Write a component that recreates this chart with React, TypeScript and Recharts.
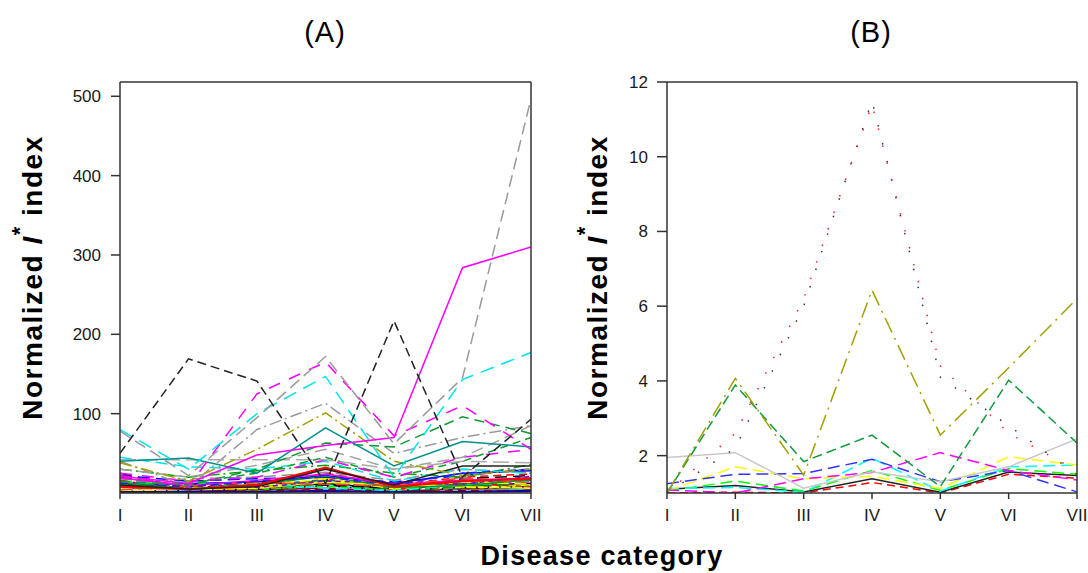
import React from 'react';
import { LineChart, Line, XAxis, YAxis, ReferenceLine, Label } from 'recharts';

// ---------- categories & ticks ----------
const categories = ['I', 'II', 'III', 'IV', 'V', 'VI', 'VII'];
const ticksA = [100, 200, 300, 400, 500];
const ticksB = [2, 4, 6, 8, 10, 12];
const domainA: [number, number] = [0, 518];
const domainB: [number, number] = [1, 12];

// ---------- Panel A values (low bundle first, prominent lines last) ----------
const aLow01 = [8, 4, 6, 12, 5, 10, 12];
const aLow02 = [12, 6, 5, 18, 4, 12, 8];
const aLow03 = [15, 10, 8, 14, 6, 18, 15];
const aLow04 = [5, 8, 4, 20, 8, 6, 10];
const aLow05 = [10, 12, 14, 22, 12, 25, 28];
const aLow06 = [6, 3, 10, 8, 15, 10, 14];
const aLow07 = [4, 2, 3, 10, 2, 6, 4];
const aLow08 = [18, 10, 12, 15, 8, 14, 20];
const aLow09 = [3, 2, 4, 6, 2, 5, 6];
const aLow10 = [20, 8, 6, 10, 3, 8, 12];
const aLow11 = [2, 1, 2, 3, 1, 2, 3];
const aLow12 = [7, 5, 8, 4, 6, 9, 5];
const aLow13 = [14, 6, 10, 16, 9, 12, 16];
const aLow14 = [9, 7, 3, 12, 7, 4, 9];
const aLow15 = [25, 5, 14, 10, 6, 18, 22];
const aLow16 = [16, 3, 7, 25, 10, 20, 24];
const aLow17 = [11, 14, 5, 8, 4, 15, 18];
const aLow18 = [22, 15, 18, 20, 14, 22, 30];
const aLow19 = [3, 4, 6, 14, 10, 8, 6];
const aLow20 = [6, 4, 12, 6, 3, 10, 14];
const aLow21 = [12, 18, 20, 26, 16, 30, 25];
const aLow22 = [1, 1, 2, 4, 1, 3, 2];
const aLow23 = [30, 20, 28, 35, 25, 20, 36];
const aLow24 = [1, 2, 1, 2, 1, 1, 2];
const aLow25 = [2, 3, 5, 9, 3, 7, 8];
const aLow26 = [19, 9, 16, 24, 11, 16, 19];
const aLow27 = [5, 6, 9, 18, 5, 14, 11];
const aLow28 = [9, 11, 7, 15, 13, 11, 21];
const aLow29 = [13, 4, 11, 21, 7, 9, 17];
const aLow30 = [4, 9, 13, 11, 9, 19, 13];
const aBlueDash = [12, 8, 15, 20, 10, 25, 30];
const aCyanDash2 = [45, 33, 30, 40, 15, 30, 25];
const aGreenDash2 = [10, 12, 25, 45, 20, 40, 70];
const aMagentaDash2 = [25, 15, 20, 42, 20, 45, 55];
const aGrayDash2 = [30, 20, 35, 55, 30, 45, 85];
const aRed = [8, 5, 10, 32, 8, 15, 18];
const aBlackSolid = [10, 5, 8, 30, 10, 34, 34];
const aGrayDashDot = [40, 8, 80, 113, 50, 70, 85];
const aGrayLong = [42, 42, 42, 42, 30, 40, 38];
const aOliveDashDot = [38, 15, 55, 101, 40, 22, 30];
const aGreenDash = [15, 10, 30, 63, 58, 96, 75];
const aTeal = [40, 44, 25, 82, 34, 65, 58];
const aMagentaDash = [22, 8, 125, 165, 72, 110, 55];
const aCyanDash = [80, 30, 100, 147, 20, 143, 177];
const aMagentaSolid = [21, 12, 48, 60, 70, 284, 310];
const aGrayDash = [78, 22, 95, 172, 62, 145, 497];
const aBlackDash = [50, 169, 141, 12, 217, 20, 93];

const seriesA = [
  aLow01, aLow02, aLow03, aLow04, aLow05, aLow06, aLow07, aLow08, aLow09, aLow10,
  aLow11, aLow12, aLow13, aLow14, aLow15, aLow16, aLow17, aLow18, aLow19, aLow20,
  aLow21, aLow22, aLow23, aLow24, aLow25, aLow26, aLow27, aLow28, aLow29, aLow30,
  aBlueDash, aCyanDash2, aGreenDash2, aMagentaDash2, aGrayDash2, aRed, aBlackSolid,
  aGrayDashDot, aGrayLong, aOliveDashDot, aGreenDash, aTeal, aMagentaDash, aCyanDash,
  aMagentaSolid, aGrayDash, aBlackDash,
];

// ---------- Panel B values ----------
const bRedDash = [1.0, 1.02, 1.0, 1.28, 1.0, 1.5, 1.4];
const bBlackSolid = [1.1, 1.2, 1.03, 1.38, 1.02, 1.56, 1.47];
const bGreenBright = [1.05, 1.32, 1.05, 1.6, 1.07, 1.65, 1.5];
const bCyan = [1.12, 1.15, 1.02, 1.93, 1.05, 1.7, 1.75];
const bYellow = [1.05, 1.7, 1.38, 1.45, 1.12, 1.97, 1.75];
const bBlue = [1.25, 1.5, 1.52, 1.9, 1.3, 1.6, 1.03];
const bMagenta = [1.08, 1.0, 1.38, 1.55, 2.08, 1.6, 1.35];
const bGraySolid = [1.95, 2.08, 1.13, 1.57, 1.3, 1.7, 2.45];
const bGreenDash = [1.0, 3.89, 1.84, 2.55, 1.17, 4.02, 2.34];
const bOliveDashDot = [1.0, 4.07, 1.48, 6.43, 2.55, 4.35, 6.2];
const bBlackDotted = [1.0, 2.2, 6.0, 11.5, 4.1, 2.8, 1.5];
const bRedDotted = [1.0, 2.6, 6.2, 11.4, 4.4, 2.6, 1.6];

const seriesB = [
  bRedDash, bBlackSolid, bGreenBright, bCyan, bYellow, bBlue, bMagenta,
  bGraySolid, bGreenDash, bOliveDashDot, bBlackDotted, bRedDotted,
];

// ---------- styles (kept separate from data) ----------
type St = { c: string; d?: string; w?: number };
const LD = '12 6';
const MD = '8 5';
const SD = '5 4';
const DD = '12 4 2 4';
const DOT = '1.5 10';

const stylesA: St[] = [
  { c: '#000000' }, { c: '#ff0000' }, { c: '#00ff00', d: LD }, { c: '#ffff00', d: MD },
  { c: '#0000ff' }, { c: '#ff00ff', d: SD }, { c: '#00ffff' }, { c: '#808080', d: DD },
  { c: '#800000' }, { c: '#008000', d: LD }, { c: '#000080' }, { c: '#800080', d: MD },
  { c: '#008080' }, { c: '#808000', d: SD }, { c: '#000000', d: LD }, { c: '#ff0000', d: MD },
  { c: '#00ff00', d: MD }, { c: '#0000ff', d: LD }, { c: '#ffff00' }, { c: '#00ffff', d: LD },
  { c: '#909090', d: LD }, { c: '#800000', d: MD }, { c: '#00a000', d: DD }, { c: '#0000c0' },
  { c: '#000000', d: DOT }, { c: '#ff00ff' }, { c: '#ffff00', d: LD }, { c: '#8000c0', d: SD },
  { c: '#00a000' }, { c: '#ff4040', d: LD },
  { c: '#2020ff', d: MD }, { c: '#00e5e5', d: LD }, { c: '#109a30', d: MD }, { c: '#ff00ff', d: '12 10' },
  { c: '#a0a0a0', d: LD }, { c: '#ff0000', w: 2.2 }, { c: '#222222' },
  { c: '#9a9a9a', d: DD }, { c: '#ababab', d: '16 6' }, { c: '#a0a000', d: DD }, { c: '#109a30', d: '10 6' },
  { c: '#009090' }, { c: '#ff00ff', d: '12 10' }, { c: '#00e5ee', d: '14 8' },
  { c: '#ff00ff' }, { c: '#9a9a9a', d: '12 6' }, { c: '#222222', d: '9 5' },
];

const stylesB: St[] = [
  { c: '#ff0000', d: MD }, { c: '#222222' }, { c: '#00ff00', d: LD }, { c: '#00ffff', d: LD },
  { c: '#ffff00', d: LD }, { c: '#3333ff', d: LD }, { c: '#ff00ff', d: LD },
  { c: '#c8c8c8' }, { c: '#109a3c', d: '10 5' }, { c: '#a0a000', d: '16 6 2 6' },
  { c: '#333333', d: '1.5 17' }, { c: '#ff2020', d: '1.5 16' },
];

// ---------- build rows ----------
function buildRows(series: number[][]) {
  return categories.map((cat, i) => {
    const row: Record<string, number | string> = { cat };
    series.forEach((s, k) => {
      row['s' + k] = s[i];
    });
    return row;
  });
}
const dataA = buildRows(seriesA);
const dataB = buildRows(seriesB);

const FONT = '"Liberation Sans", Arial, sans-serif';
const AX = '#333333';
const TICK = { fill: '#1a1a1a', fontSize: 17, fontFamily: FONT };

function makeYLabel(dx: number, dy: number) {
  return (props: any) => {
    const vb = props.viewBox || { x: 0, y: 0, width: 0, height: 0 };
    const cx = vb.x + dx;
    const cy = vb.y + vb.height / 2 + dy;
    return (
      <text
        x={cx}
        y={cy}
        transform={`rotate(-90 ${cx} ${cy})`}
        textAnchor="middle"
        dominantBaseline="central"
        fontSize={28}
        fontWeight="bold"
        fill="#000"
        letterSpacing={1.5}
        fontFamily={FONT}
      >
        <tspan>Normalized </tspan>
        <tspan fontStyle="italic">I</tspan>
        <tspan fontSize={22} dy={-13}>*</tspan>
        <tspan dy={13}> index</tspan>
      </text>
    );
  };
}

function renderLines(series: number[][], styles: St[]) {
  return series.map((_, k) => {
    const st = styles[k];
    return (
      <Line
        key={'s' + k}
        dataKey={'s' + k}
        stroke={st.c}
        strokeWidth={st.w ?? 1.5}
        strokeDasharray={st.d}
        dot={false}
        activeDot={false}
        isAnimationActive={false}
        type="linear"
      />
    );
  });
}

export default function App() {
  return (
    <div
      style={{
        position: 'absolute',
        left: 0,
        top: 0,
        width: 1088,
        height: 573,
        background: '#ffffff',
        fontFamily: FONT,
        overflow: 'hidden',
      }}
    >
      <div style={{ position: 'absolute', left: 0, top: 0 }}>
        <LineChart width={545} height={573} data={dataA} margin={{ top: 82, right: 14, bottom: 40, left: 60 }}>
          <XAxis
            dataKey="cat"
            interval={0}
            height={40}
            tickSize={6}
            tickMargin={10}
            tick={TICK}
            axisLine={{ stroke: AX, strokeWidth: 1.5 }}
            tickLine={{ stroke: AX, strokeWidth: 1.5 }}
          />
          <YAxis
            type="number"
            domain={domainA}
            ticks={ticksA}
            allowDataOverflow
            width={60}
            tickSize={9}
            tickMargin={10}
            tick={TICK}
            axisLine={{ stroke: AX, strokeWidth: 1.5 }}
            tickLine={{ stroke: AX, strokeWidth: 1.5 }}
          >
            <Label content={makeYLabel(-28, -10)} />
          </YAxis>
          {renderLines(seriesA, stylesA)}
          <ReferenceLine y={domainA[1]} stroke={AX} strokeWidth={1.5} />
          <ReferenceLine x="VII" stroke={AX} strokeWidth={1.5} />
        </LineChart>
      </div>
      <div style={{ position: 'absolute', left: 545, top: 0 }}>
        <LineChart width={543} height={573} data={dataB} margin={{ top: 82, right: 11, bottom: 40, left: 62 }}>
          <XAxis
            dataKey="cat"
            interval={0}
            height={40}
            tickSize={6}
            tickMargin={10}
            tick={TICK}
            axisLine={{ stroke: AX, strokeWidth: 1.5 }}
            tickLine={{ stroke: AX, strokeWidth: 1.5 }}
          />
          <YAxis
            type="number"
            domain={domainB}
            ticks={ticksB}
            allowDataOverflow
            width={60}
            tickSize={10}
            tickMargin={9}
            tick={TICK}
            axisLine={{ stroke: AX, strokeWidth: 1.5 }}
            tickLine={{ stroke: AX, strokeWidth: 1.5 }}
          >
            <Label content={makeYLabel(-10, -10)} />
          </YAxis>
          {renderLines(seriesB, stylesB)}
          <ReferenceLine y={domainB[1]} stroke={AX} strokeWidth={1.5} />
          <ReferenceLine x="VII" stroke={AX} strokeWidth={1.5} />
        </LineChart>
      </div>
      <svg width={1088} height={573} style={{ position: 'absolute', left: 0, top: 0, pointerEvents: 'none' }}>
        <text x={325} y={42} textAnchor="middle" fontSize={29} fontFamily={FONT} letterSpacing={1} fill="#000">
          (A)
        </text>
        <text x={871} y={42} textAnchor="middle" fontSize={29} fontFamily={FONT} letterSpacing={1} fill="#000">
          (B)
        </text>
        <text x={602} y={565} textAnchor="middle" fontSize={27} fontWeight="bold" fontFamily={FONT} letterSpacing={1.3} fill="#000">
          Disease category
        </text>
      </svg>
    </div>
  );
}
